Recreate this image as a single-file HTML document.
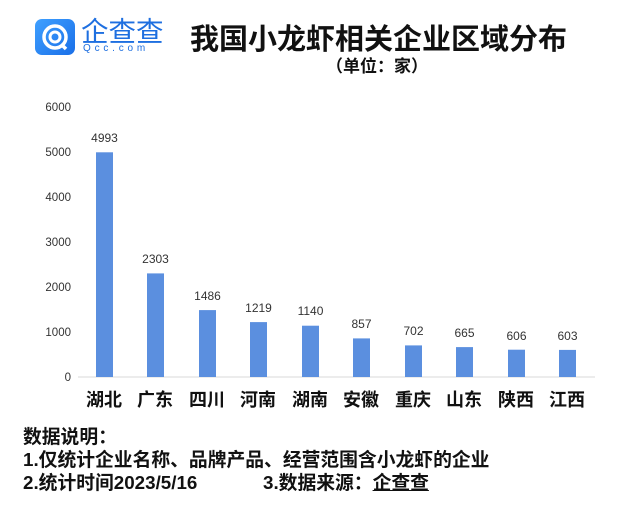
<!DOCTYPE html>
<html><head><meta charset="utf-8"><style>
body{margin:0;width:640px;height:506px;background:#fff;position:relative;overflow:hidden;font-family:"Liberation Sans","Noto Sans CJK SC",sans-serif;}
.a{position:absolute;white-space:nowrap;}
</style></head><body>
<div class="a" style="left:35px;top:19px;width:40px;height:36px;border-radius:7px;background:linear-gradient(135deg,#3fa0ff,#1a6fe8);"></div>
<svg class="a" style="left:35px;top:19px" width="40" height="36"><circle cx="20" cy="18" r="11" fill="none" stroke="#fff" stroke-width="3.5"/><circle cx="20" cy="18" r="5" fill="none" stroke="#fff" stroke-width="3"/><line x1="26" y1="25" x2="31" y2="30" stroke="#fff" stroke-width="3.5"/></svg>
<div class="a" style="left:81px;top:15px;font-size:27.5px;line-height:28px;color:#1e6fe0;font-family:'Noto Sans CJK SC',sans-serif;">企查查</div>
<div class="a" style="left:83px;top:43px;font-size:10px;letter-spacing:3.8px;color:#1e6fe0;">Qcc.com</div>
<div class="a" style="left:190px;top:19px;font-size:29px;line-height:36px;font-weight:bold;color:#111;font-family:'Noto Sans CJK SC',sans-serif;">我国小龙虾相关企业区域分布</div>
<div class="a" style="left:326px;top:54px;font-size:17px;line-height:22px;font-weight:bold;color:#111;font-family:'Noto Sans CJK SC',sans-serif;">（单位：家）</div>
<svg class="a" style="left:0;top:0" width="640" height="420" font-family="Liberation Sans, sans-serif">
<g font-size="11.5" fill="#333" text-anchor="end">
<text x="71" y="111">6000</text><text x="71" y="156">5000</text><text x="71" y="201">4000</text><text x="71" y="246">3000</text><text x="71" y="291">2000</text><text x="71" y="336">1000</text><text x="71" y="381">0</text>
</g>
<line x1="78" y1="377" x2="595" y2="377" stroke="#d9d9d9"/>
<g fill="#5b8fdf">
<rect x="96" y="152.3" width="17" height="224.7"/>
<rect x="147" y="273.4" width="17" height="103.6"/>
<rect x="199" y="310.1" width="17" height="66.9"/>
<rect x="250" y="322.1" width="17" height="54.9"/>
<rect x="302" y="325.7" width="17" height="51.3"/>
<rect x="353" y="338.4" width="17" height="38.6"/>
<rect x="405" y="345.4" width="17" height="31.6"/>
<rect x="456" y="347.1" width="17" height="29.9"/>
<rect x="508" y="349.7" width="17" height="27.3"/>
<rect x="559" y="349.9" width="17" height="27.1"/>
</g>
<g font-size="12" fill="#333" text-anchor="middle">
<text x="104.5" y="142">4993</text><text x="155.5" y="263">2303</text><text x="207.5" y="300">1486</text><text x="258.5" y="312">1219</text><text x="310.5" y="315">1140</text><text x="361.5" y="328">857</text><text x="413.5" y="335">702</text><text x="464.5" y="337">665</text><text x="516.5" y="340">606</text><text x="567.5" y="340">603</text>
</g>
<g font-size="18" font-weight="bold" fill="#111" text-anchor="middle" font-family="Noto Sans CJK SC, sans-serif">
<text x="104" y="406">湖北</text><text x="155" y="406">广东</text><text x="207" y="406">四川</text><text x="258" y="406">河南</text><text x="310" y="406">湖南</text><text x="361" y="406">安徽</text><text x="413" y="406">重庆</text><text x="464" y="406">山东</text><text x="516" y="406">陕西</text><text x="567" y="406">江西</text>
</g>
</svg>
<div class="a" style="left:23px;top:425px;font-size:18.8px;line-height:23px;font-weight:bold;color:#111;font-family:'Liberation Sans','Noto Sans CJK SC',sans-serif;">数据说明：<br>1.仅统计企业名称、品牌产品、经营范围含小龙虾的企业<br>2.统计时间2023/5/16</div>
<div class="a" style="left:263px;top:471px;font-size:18.8px;line-height:23px;font-weight:bold;color:#111;font-family:'Liberation Sans','Noto Sans CJK SC',sans-serif;">3.数据来源：<span style="text-decoration:underline">企查查</span></div>
</body></html>
